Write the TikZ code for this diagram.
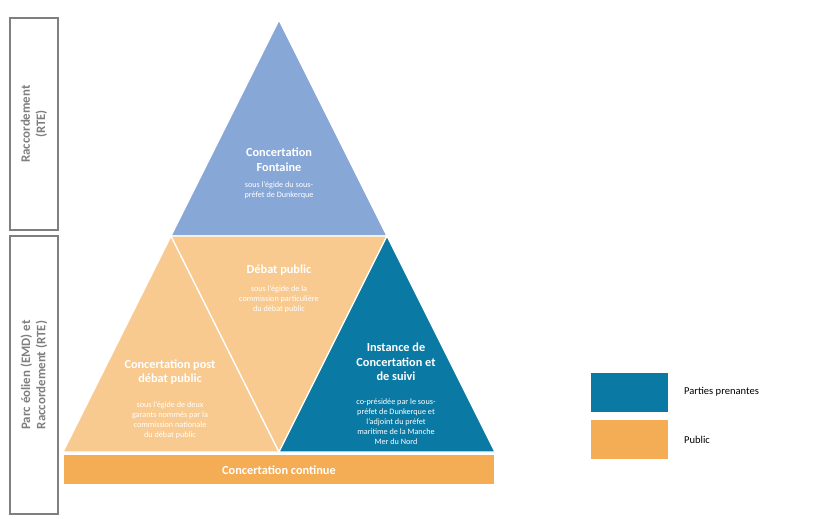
\documentclass[tikz,border=0pt]{standalone}
\usepackage{fontspec}
\setmainfont{Carlito}
\definecolor{topblue}{HTML}{87A7D7}
\definecolor{darkblue}{HTML}{0A7AA4}
\definecolor{lightorange}{HTML}{F8CA8F}
\definecolor{orange}{HTML}{F4AD55}
\definecolor{framegray}{HTML}{7F7F7F}
\tikzset{
  sidebox/.style={draw=framegray,line width=1.5pt,fill=white},
  sidetext/.style={rotate=90,align=center,text=framegray,font=\bfseries\fontsize{11}{13}\selectfont},
  title/.style={text=white,align=center,font=\bfseries\fontsize{10.5}{12.5}\selectfont},
  sub/.style={text=white,align=center,font=\fontsize{7}{8.5}\selectfont},
  legend/.style={font=\fontsize{9}{11}\selectfont,anchor=west}
}
\begin{document}
\begin{tikzpicture}[x=0.03cm,y=-0.03cm]
  \useasboundingbox (0,0) rectangle (830,518);
  % side boxes
  \draw[sidebox] (10,18) rectangle (58,230);
  \draw[sidebox] (10,236) rectangle (58,514);
  \node[sidetext] (rte) at (34,124) {Raccordement\\(RTE)};
  \node[sidetext] (emd) at (34,375) {Parc éolien (EMD) et\\Raccordement (RTE)};

  % pyramid
  \begin{scope}[draw=white,line width=1pt]
    \filldraw[fill=topblue] (279,20) -- (387,236) -- (171,236) -- cycle;
    \filldraw[fill=lightorange] (63,452) -- (171,236) -- (279,452) -- cycle;
    \filldraw[fill=lightorange] (171,236) -- (387,236) -- (279,452) -- cycle;
    \filldraw[fill=darkblue] (279,452) -- (387,236) -- (495,452) -- cycle;
    \filldraw[fill=orange] (63,454) rectangle (495,485);
  \end{scope}

  \node[title] (fontaine) at (279,160) {Concertation\\Fontaine};
  \node[sub] (fontainesub) at (279,190) {sous l’égide du sous-\\préfet de Dunkerque};
  \node[title] (debat) at (279,270) {Débat public};
  \node[sub] (debatsub) at (279,299) {sous l’égide de la\\commission particulière\\du débat public};
  \node[title] (post) at (170,372) {Concertation post\\débat public};
  \node[sub] (postsub) at (170,420) {sous l’égide de deux\\garants nommés par la\\commission nationale\\du débat public};
  \node[title] (instance) at (396,362) {Instance de\\Concertation et\\de suivi};
  \node[sub] (instancesub) at (396,422) {co-présidée par le sous-\\préfet de Dunkerque et\\l’adjoint du préfet\\maritime de la Manche\\Mer du Nord};
  \node[title] (continue) at (279,470) {Concertation continue};

  % legend
  \fill[darkblue] (591,373) rectangle (668,412);
  \fill[orange] (591,420) rectangle (668,459);
  \node[legend] (parties) at (680,392) {Parties prenantes};
  \node[legend] (public) at (680,440) {Public};
\end{tikzpicture}
\end{document}
